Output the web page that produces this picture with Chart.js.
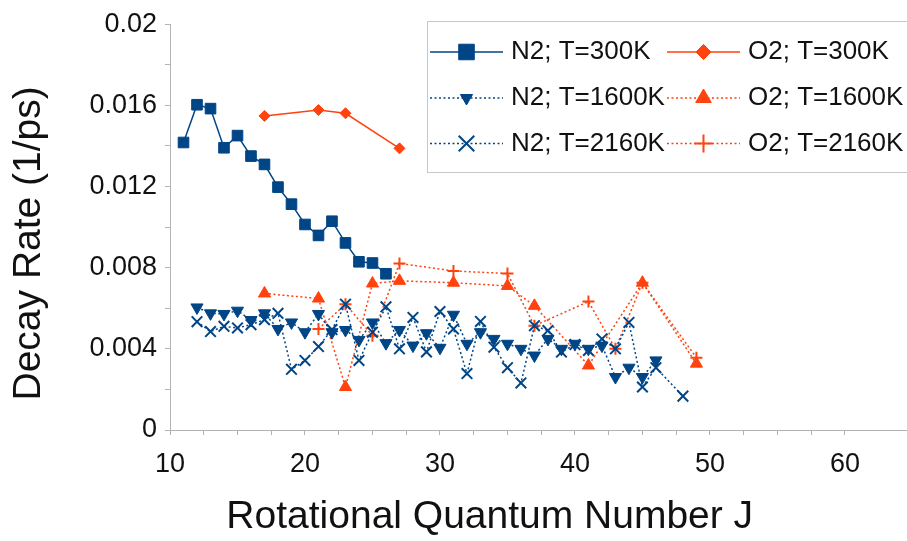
<!DOCTYPE html>
<html lang="en">
<head>
<meta charset="UTF-8">
<title>Decay Rate vs Rotational Quantum Number</title>
<script src="https://cdn.jsdelivr.net/npm/chart.js"></script>
<style>
  body { margin: 0; background: #fff; }
  canvas { display: block; }
</style>
</head>
<body>
<canvas id="chart" width="907" height="541"></canvas>
<script>
// rotational quantum numbers for each series
const jN2_300  = [11, 12, 13, 14, 15, 16, 17, 18, 19, 20, 21, 22, 23, 24, 25, 26];
const jN2_1600 = [12, 13, 14, 15, 16, 17, 18, 19, 20, 21, 22, 23, 24, 25, 26, 27, 28, 29,
                  30, 31, 32, 33, 34, 35, 36, 37, 38, 39, 40, 41, 42, 43, 44, 45, 46];
const jN2_2160 = [12, 13, 14, 15, 16, 17, 18, 19, 20, 21, 22, 23, 24, 25, 26, 27, 28, 29,
                  30, 31, 32, 33, 34, 35, 36, 37, 38, 39, 40, 41, 42, 43, 44, 45, 46, 48];
const jO2_300  = [17, 21, 23, 27];
const jO2_1600 = [17, 21, 23, 25, 27, 31, 35, 37, 41, 45, 49];
const jO2_2160 = [21, 23, 25, 27, 31, 35, 37, 41, 43, 45, 49];

// decay rates (1/ps)
const rateN2_300  = [0.01417, 0.01603, 0.01584, 0.01391, 0.01451, 0.0135, 0.01309, 0.01197,
                     0.01113, 0.01013, 0.00959, 0.01029, 0.00922, 0.00829, 0.00823, 0.0077];
const rateN2_1600 = [0.00604, 0.00575, 0.00572, 0.00588, 0.00542, 0.00575, 0.00498, 0.0053,
                     0.00482, 0.00572, 0.00482, 0.00493, 0.00444, 0.0053, 0.00428, 0.00493,
                     0.00416, 0.00477, 0.00405, 0.00568, 0.00425, 0.00482, 0.00449, 0.00425,
                     0.004, 0.00367, 0.00449, 0.004, 0.00425, 0.004, 0.00416, 0.00261,
                     0.00307, 0.00261, 0.00343];
const rateN2_2160 = [0.00534, 0.00485, 0.00511, 0.00503, 0.00519, 0.00544, 0.00575, 0.00299,
                     0.00343, 0.00411, 0.00495, 0.0062, 0.00343, 0.00482, 0.00607, 0.004,
                     0.00555, 0.00385, 0.00584, 0.00498, 0.00278, 0.00535, 0.00408, 0.00307,
                     0.00232, 0.00514, 0.0049, 0.00384, 0.00421, 0.00392, 0.00449, 0.004,
                     0.0053, 0.00212, 0.00307, 0.00167];
const rateO2_300  = [0.01548, 0.01577, 0.01561, 0.01388];
const rateO2_1600 = [0.00673, 0.00648, 0.00212, 0.00722, 0.00735, 0.00726, 0.0071, 0.00612,
                     0.00318, 0.00726, 0.00327];
const rateO2_2160 = [0.00498, 0.0062, 0.00465, 0.00821, 0.00784, 0.00771, 0.00514, 0.00633,
                     0.004, 0.00726, 0.00356];

const blue = '#004586';
const red = '#ff420e';
const dotted = [2, 2.5];

function pts(js, vals) {
  return js.map((j, i) => ({ x: j, y: vals[i] }));
}

const datasets = [
  { label: 'N2; T=300K', data: pts(jN2_300, rateN2_300), borderColor: blue, backgroundColor: blue,
    borderWidth: 1.5, pointStyle: 'rect', pointRadius: 7.5, pointBorderWidth: 1, legendRadius: 11 },
  { label: 'N2; T=1600K', data: pts(jN2_1600, rateN2_1600), borderColor: blue, backgroundColor: blue,
    borderWidth: 1.5, borderDash: dotted, pointStyle: 'triangle', pointRotation: 180,
    pointRadius: 7, pointBorderWidth: 1, legendRadius: 7 },
  { label: 'N2; T=2160K', data: pts(jN2_2160, rateN2_2160), borderColor: blue, backgroundColor: blue,
    borderWidth: 1.5, borderDash: dotted, pointStyle: 'crossRot', pointRadius: 7.5,
    pointBorderWidth: 2, legendRadius: 11 },
  { label: 'O2; T=300K', data: pts(jO2_300, rateO2_300), borderColor: red, backgroundColor: red,
    borderWidth: 1.5, pointStyle: 'rectRot', pointRadius: 5.5, pointBorderWidth: 1, legendRadius: 7.5 },
  { label: 'O2; T=1600K', data: pts(jO2_1600, rateO2_1600), borderColor: red, backgroundColor: red,
    borderWidth: 1.5, borderDash: dotted, pointStyle: 'triangle', pointRadius: 7,
    pointBorderWidth: 1, legendRadius: 9 },
  { label: 'O2; T=2160K', data: pts(jO2_2160, rateO2_2160), borderColor: red, backgroundColor: red,
    borderWidth: 1.5, borderDash: dotted, pointStyle: 'cross', pointRadius: 6,
    pointBorderWidth: 2, legendRadius: 9 }
];
datasets.forEach(ds => {
  ds.pointBackgroundColor = ds.borderColor;
  ds.pointBorderColor = ds.borderColor;
  ds.tension = 0;
  ds.fill = false;
});

// legend drawn inside the plot, two columns of three
const boxLegend = {
  id: 'boxLegend',
  afterDraw(chart) {
    const ctx = chart.ctx;
    const rows = [52, 98, 143.5];
    const cols = [430, 667];
    ctx.save();
    ctx.fillStyle = '#fff';
    ctx.fillRect(427, 21, 500, 152);
    ctx.strokeStyle = '#c8c8c8';
    ctx.lineWidth = 1;
    ctx.strokeRect(427.5, 21.5, 500, 151);
    chart.data.datasets.forEach((ds, i) => {
      const x0 = cols[Math.floor(i / 3)];
      const y = rows[i % 3];
      ctx.strokeStyle = ds.borderColor;
      ctx.fillStyle = ds.borderColor;
      ctx.lineWidth = ds.borderWidth;
      ctx.setLineDash(ds.borderDash || []);
      ctx.beginPath();
      ctx.moveTo(x0, y);
      ctx.lineTo(x0 + 73, y);
      ctx.stroke();
      ctx.setLineDash([]);
      ctx.lineWidth = ds.pointBorderWidth;
      Chart.helpers.drawPoint(ctx, {
        pointStyle: ds.pointStyle,
        radius: ds.legendRadius,
        rotation: ds.pointRotation || 0,
        borderWidth: ds.pointBorderWidth
      }, x0 + 36.5, y);
      ctx.fillStyle = '#111';
      ctx.font = '26px "Liberation Sans"';
      ctx.textBaseline = 'middle';
      ctx.textAlign = 'left';
      ctx.fillText(ds.label, x0 + 81, y);
    });
    ctx.restore();
  }
};

const axisGray = '#b3b3b3';
const tickFont = { family: 'Liberation Sans', size: 27 };
const titleFont = { family: 'Liberation Sans', size: 39 };

new Chart(document.getElementById('chart'), {
  type: 'line',
  data: { datasets: datasets },
  options: {
    responsive: false,
    animation: false,
    layout: { autoPadding: false, padding: { top: 22, right: 0, left: 0, bottom: 0 } },
    plugins: { legend: { display: false }, tooltip: { enabled: false } },
    scales: {
      x: {
        type: 'linear',
        min: 10,
        max: 64.6,
        afterFit: s => { s.height = 111; },
        afterBuildTicks: s => { s.ticks = s.ticks.filter(t => Math.abs(t.value / 2.5 - Math.round(t.value / 2.5)) < 1e-6); },
        grid: { display: true, drawOnChartArea: false, drawTicks: true, tickLength: 5, color: axisGray },
        border: { display: true, color: axisGray, width: 1 },
        ticks: {
          stepSize: 2.5,
          autoSkip: false,
          maxRotation: 0,
          padding: 13,
          color: '#111',
          font: tickFont,
          callback: v => (Math.round(v * 10) % 100 === 0 ? String(v) : '')
        },
        title: {
          display: true,
          text: 'Rotational Quantum Number J' + '\u00a0'.repeat(9),
          color: '#111',
          font: titleFont,
          padding: { top: 0, bottom: 0 }
        }
      },
      y: {
        min: 0,
        max: 0.02,
        afterFit: s => { s.width = 170; },
        grid: { display: true, drawOnChartArea: false, drawTicks: true, tickLength: 5, color: axisGray },
        border: { display: true, color: axisGray, width: 1 },
        ticks: {
          stepSize: 0.002,
          autoSkip: false,
          padding: 8,
          color: '#111',
          font: tickFont,
          callback: v => (Math.round(v * 1000) % 4 === 0 ? String(Number(v.toFixed(3))) : '')
        },
        title: {
          display: true,
          text: 'Decay Rate (1/ps)' + '\u00a0\u00a0\u00a0',
          color: '#111',
          font: titleFont,
          padding: { top: 6, bottom: 0 }
        }
      }
    }
  },
  plugins: [boxLegend]
});
</script>
</body>
</html>
